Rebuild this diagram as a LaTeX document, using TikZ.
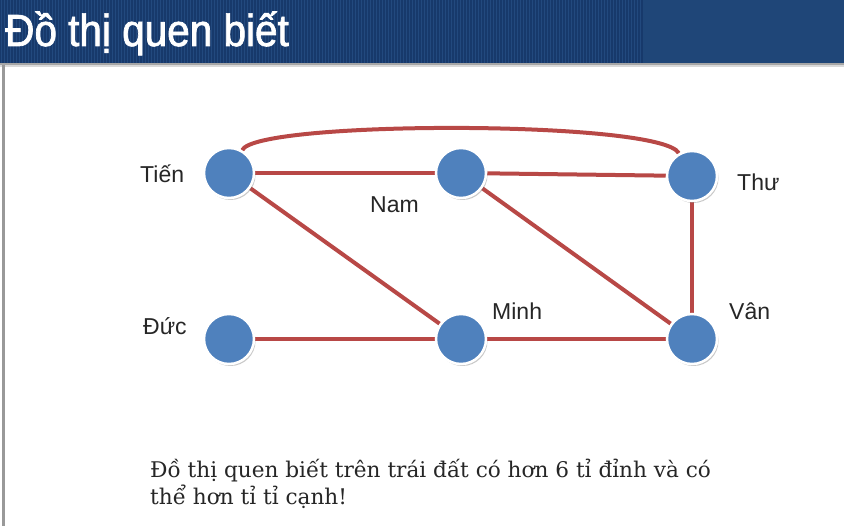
\documentclass[tikz,border=0pt]{standalone}
\usepackage{fontspec}
\setmainfont{DejaVu Serif}
\setsansfont{Liberation Sans}
\newfontfamily\titlefont[FakeStretch=0.9,FakeBold=1.6]{Liberation Sans}
\usetikzlibrary{shadows}
\definecolor{barblue}{HTML}{17396B}
\definecolor{barstripe}{HTML}{22497E}
\definecolor{barright}{HTML}{1F4678}
\definecolor{nodeblue}{HTML}{4F81BD}
\definecolor{edgered}{HTML}{B84846}
\pgfdeclarelayer{bg}
\pgfdeclarelayer{edges}
\pgfsetlayers{bg,edges,main}
\tikzset{
  vertex/.style={circle, fill=nodeblue, draw=white, line width=2.5pt, minimum size=50pt, inner sep=0pt,
    drop shadow={shadow xshift=1.5pt, shadow yshift=-2pt, opacity=0.35, fill=black!60}},
  lbl/.style={font=\sffamily\fontsize{23}{23}\selectfont, anchor=base west, inner sep=0pt, text=black!85},
  edge/.style={draw=edgered, line width=4pt},
  body/.style={font=\fontsize{21.6}{27}\selectfont, anchor=base west, inner sep=0pt, text=black!85}
}
\begin{document}
\begin{tikzpicture}[x=1pt,y=-1pt]
\useasboundingbox (0,0) rectangle (844,526);
\begin{pgfonlayer}{bg}
  \fill[white] (0,0) rectangle (844,526);
  % title bar
  \fill[barblue] (0,0) rectangle (643,63);
  \foreach \x in {1,4,...,642} \draw[barstripe, line width=0.9pt] (\x,0) -- (\x,63);
  \fill[barright] (643,0) rectangle (844,63);
  \fill[black!35] (0,63) rectangle (844,65);
  \fill[black!15] (0,65) rectangle (844,67);
  % left line
  \fill[black!40] (2,65) rectangle (4.5,526);
\end{pgfonlayer}
\node[font=\titlefont\fontsize{45}{45}\selectfont, text=white, anchor=base west, inner sep=0pt] (title) at (5,46) {Đồ thị quen biết};

\node[vertex] (tien) at (229,173) {};
\node[vertex] (nam) at (461,173) {};
\node[vertex] (thu) at (692,176) {};
\node[vertex] (duc) at (229,339) {};
\node[vertex] (minh) at (461,339) {};
\node[vertex] (van) at (692,339) {};

\begin{pgfonlayer}{edges}
  \draw[edge] (tien) -- (nam);
  \draw[edge] (nam) -- (thu);
  \draw[edge] (tien.60) .. controls (255,120) and (662,120) .. (thu.120);
  \draw[edge] (tien) -- (minh);
  \draw[edge] (nam) -- (van);
  \draw[edge] (thu) -- (van);
  \draw[edge] (duc) -- (minh);
  \draw[edge] (minh) -- (van);
\end{pgfonlayer}

\node[lbl] (ltien) at (140,183) {Tiến};
\node[lbl] (lnam) at (370,213) {Nam};
\node[lbl] (lthu) at (737,191) {Thư};
\node[lbl] (lduc) at (143,335) {Đức};
\node[lbl] (lminh) at (492,320) {Minh};
\node[lbl] (lvan) at (729,320) {Vân};

\node[body] (line1) at (150,478) {Đồ thị quen biết trên trái đất có hơn 6 tỉ đỉnh và có};
\node[body] (line2) at (150,505) {thể hơn tỉ tỉ cạnh!};
\end{tikzpicture}
\end{document}
